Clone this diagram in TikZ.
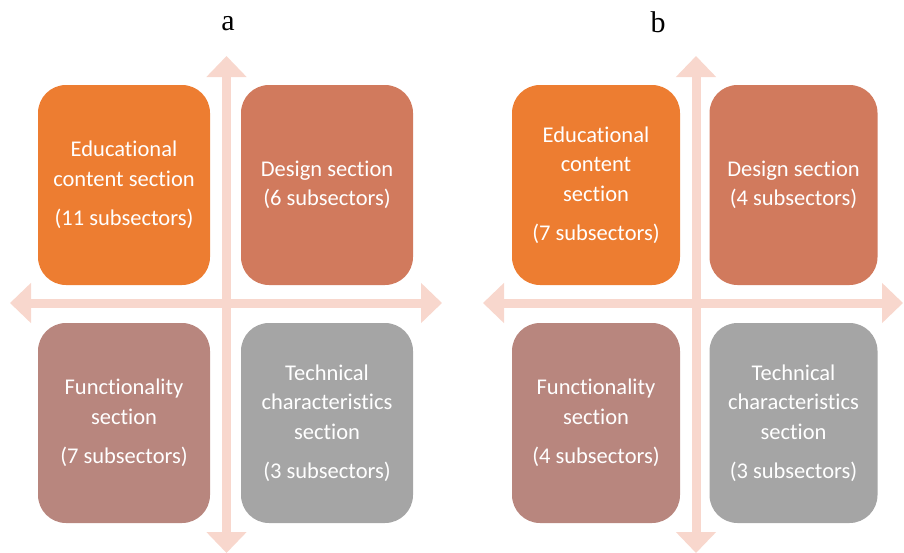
\documentclass[tikz,border=0pt]{standalone}
\usepackage{fontspec}
\usepackage{tikz}
\usetikzlibrary{arrows.meta}
\newfontfamily\boxfont[Ligatures=NoCommon]{Carlito}
\newfontfamily\panelfont{Liberation Serif}
\definecolor{educol}{RGB}{237,125,49}
\definecolor{descol}{RGB}{209,122,93}
\definecolor{funcol}{RGB}{184,134,126}
\definecolor{teccol}{RGB}{165,165,165}
\definecolor{axiscol}{RGB}{248,215,205}
\tikzset{
  sect/.style={rectangle,rounded corners=28pt,text=white,align=center,
    minimum height=200pt,inner sep=0pt,font=\boxfont\fontsize{22.5}{29.5}\selectfont},
  axis/.style={draw=axiscol,line width=9pt,{Triangle[length=21pt,width=39pt]}-{Triangle[length=21pt,width=39pt]}},
  panel/.style={font=\panelfont\fontsize{30}{32}\selectfont}
}

\begin{document}
\begin{tikzpicture}[x=1pt,y=-1pt]
\useasboundingbox (0,0) rectangle (904,552);
% panel a
\node[panel] (la) at (228,24) {a};
\coordinate (aT) at (226.5,56);
\coordinate (aB) at (226.5,553);
\coordinate (aL) at (10,303);
\coordinate (aR) at (442,303);
\draw[axis] (aT) -- (aB);
\draw[axis] (aL) -- (aR);
\node[sect,fill=educol,minimum width=172pt] (a1) at (124,185) {Educational\\content section\\[10pt](11 subsectors)};
\node[sect,fill=descol,minimum width=172pt] (a2) at (327,185) {Design section\\(6 subsectors)};
\node[sect,fill=funcol,minimum width=172pt] (a3) at (124,423) {Functionality\\section\\[10pt](7 subsectors)};
\node[sect,fill=teccol,minimum width=172pt] (a4) at (327,423) {Technical\\characteristics\\section\\[10pt](3 subsectors)};
% panel b
\node[panel] (lb) at (658,22) {b};
\coordinate (bT) at (696,56);
\coordinate (bB) at (696,553);
\coordinate (bL) at (483,303);
\coordinate (bR) at (903,303);
\draw[axis] (bT) -- (bB);
\draw[axis] (bL) -- (bR);
\node[sect,fill=educol,minimum width=168pt] (b1) at (596,185) {Educational\\content\\section\\[10pt](7 subsectors)};
\node[sect,fill=descol,minimum width=168pt] (b2) at (793.5,185) {Design section\\(4 subsectors)};
\node[sect,fill=funcol,minimum width=168pt] (b3) at (596,423) {Functionality\\section\\[10pt](4 subsectors)};
\node[sect,fill=teccol,minimum width=168pt] (b4) at (793.5,423) {Technical\\characteristics\\section\\[10pt](3 subsectors)};
\end{tikzpicture}
\end{document}
